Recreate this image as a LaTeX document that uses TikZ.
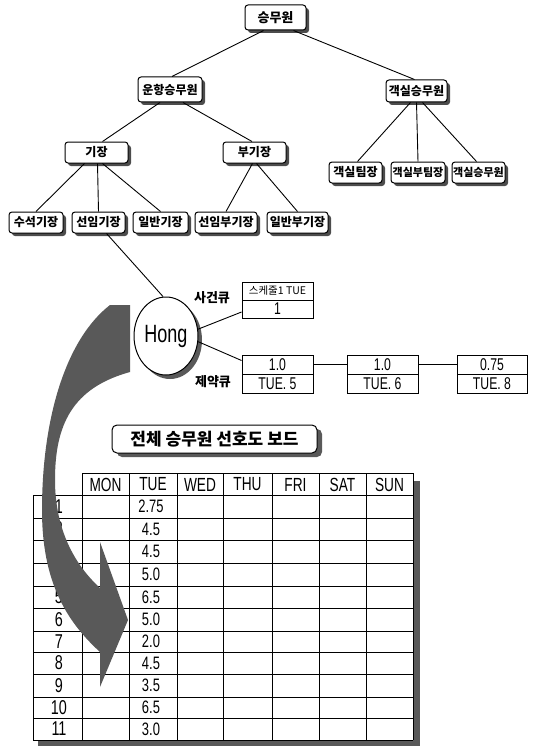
\documentclass[tikz,border=0pt]{standalone}
\usepackage{fontspec}
\setmainfont{Liberation Sans}
\newfontfamily\cond[FakeStretch=0.72]{Liberation Sans}
\newfontfamily\kr{Noto Sans CJK KR}
\usetikzlibrary{shapes.geometric,shadows,calc}
\begin{document}
\begin{tikzpicture}[x=1pt,y=-1pt,
  shd/.style={drop shadow={shadow xshift=3pt,shadow yshift=-3pt,fill=black!70,opacity=1}},
  tbox/.style={draw,line width=1pt,rounded corners=3pt,fill=white,shd,font=\kr\bfseries\fontsize{12}{12}\selectfont,inner xsep=1pt,inner ysep=0pt,minimum height=21pt},
  qcell/.style={draw,line width=0.9pt,fill=white,minimum width=71pt,minimum height=19pt,inner sep=0pt,font=\cond\fontsize{17}{17}\selectfont},
  conn/.style={line width=0.9pt},
  lbl/.style={font=\kr\bfseries\fontsize{13}{13}\selectfont},
  hd/.style={font=\cond\fontsize{19}{19}\selectfont,inner sep=0pt},
  grid/.style={line width=1pt},
]
\useasboundingbox (0,0) rectangle (535,749);

% ---------- tree ----------
\node[tbox,minimum width=61pt,minimum height=25pt,font=\kr\bfseries\fontsize{13}{13}\selectfont] (root) at (275.5,17.5) {승무원};
\node[tbox,minimum width=64pt,minimum height=25pt] (fl) at (170,89.5) {운항승무원};
\node[tbox,minimum width=61pt,minimum height=22pt] (cab) at (416.5,91) {객실승무원};
\node[tbox,minimum width=63pt] (cap) at (96.5,152.5) {기장};
\node[tbox,minimum width=63pt] (fo) at (254.5,152.5) {부기장};
\node[tbox,minimum width=53pt] (ca1) at (355.5,172.5) {객실팀장};
\node[tbox,minimum width=54pt,font=\kr\bfseries\fontsize{11}{11}\selectfont] (ca2) at (418,172.5) {객실부팀장};
\node[tbox,minimum width=53pt,font=\kr\bfseries\fontsize{11}{11}\selectfont] (ca3) at (478.5,172.5) {객실승무원};
\node[tbox,minimum width=54pt] (k1) at (36,222.5) {수석기장};
\node[tbox,minimum width=53pt] (k2) at (98.5,222.5) {선임기장};
\node[tbox,minimum width=55pt] (k3) at (160.5,222.5) {일반기장};
\node[tbox,minimum width=62pt] (k4) at (226,222.5) {선임부기장};
\node[tbox,minimum width=61pt] (k5) at (297.5,222.5) {일반부기장};

% ---------- table ----------
\fill[black!65] (413,481) rectangle (420,746);
\fill[black!65] (38,740) rectangle (420,746);
\fill[white] (82,473) rectangle (413,740);
\fill[white] (33,495) rectangle (82,740);
\draw[grid] (82,473) -- (413,473);
\foreach \y in {495,518,540,563,586,608,631,652,674,697,718,740}
  \draw[grid] (33,\y) -- (413,\y);
\draw[grid] (33,495) -- (33,740);
\foreach \x in {82,129,177,223,272,319,366,413}
  \draw[grid] (\x,473) -- (\x,740);
\foreach \d/\x [count=\i] in {MON/105.5,TUE/153,WED/200,THU/247.5,FRI/295.5,SAT/342.5,SUN/389.5}
  \node[hd] (h\i) at (\x,484.5) {\d};
\foreach \y/\v [count=\i] in {506.5/2.75,529/4.5,551.5/4.5,574.5/5.0,597/6.5,619.5/5.0,641.5/2.0,663/4.5,685.5/3.5,707.5/6.5,729/3.0}{
  \node[hd,font=\cond\fontsize{20}{20}\selectfont] (r\i) at (59,\y) {\i};
  \node[hd,font=\cond\fontsize{18}{18}\selectfont] (v\i) at (151,\y) {\v};
}

% ---------- big curved arrow ----------
\fill[black!65] (110,305) -- (130,305) -- (130,372)
  .. controls (72,388) and (55,425) .. (55,480)
  .. controls (55,530) and (75,565) .. (100,588)
  -- (100,542) -- (128,620) -- (100,687) -- (100,652)
  .. controls (65,620) and (42,580) .. (42,510)
  .. controls (42,420) and (65,340) .. (110,305) -- cycle;

% ---------- Hong and queues ----------
\node[ellipse,draw,line width=1pt,fill=white,minimum width=64pt,minimum height=78pt,inner sep=0pt,
  font=\cond\fontsize{25}{25}\selectfont,
  drop shadow={shadow xshift=4pt,shadow yshift=-4pt,fill=black!65,opacity=1}] (hong) at (166,336) {Hong};
\node[lbl] (sa) at (212,298) {사건큐};
\node[lbl] (je) at (213,382) {제약큐};

\node[qcell,minimum height=18pt,font=\kr\fontsize{10.5}{10.5}\selectfont] (s1t) at (277.5,291) {스케줄1 TUE};
\node[qcell,minimum height=18pt] (s1b) at (277.5,309) {1};
\node[qcell] (q1t) at (277.5,364.5) {1.0};
\node[qcell] (q1b) at (277.5,383.5) {TUE. 5};
\node[qcell] (q2t) at (382.5,364.5) {1.0};
\node[qcell] (q2b) at (382.5,383.5) {TUE. 6};
\node[qcell,minimum width=70pt] (q3t) at (492,364.5) {0.75};
\node[qcell,minimum width=70pt] (q3b) at (492,383.5) {TUE. 8};

% ---------- title ----------
\node[draw,line width=1pt,rounded corners=5pt,fill=white,font=\kr\bfseries\fontsize{17}{17}\selectfont,
  minimum width=205pt,minimum height=28pt,inner sep=0pt,
  drop shadow={shadow xshift=5pt,shadow yshift=-4pt,fill=black!65,opacity=1}] (title) at (214.5,439) {전체 승무원 선호도 보드};

% ---------- connectors ----------
\draw[conn] ([xshift=-12pt]root.south) -- ([xshift=2pt]fl.north);
\draw[conn] ([xshift=18pt]root.south) -- ([xshift=-2pt]cab.north);
\draw[conn] ([xshift=-10pt]fl.south) -- ([xshift=6pt]cap.north);
\draw[conn] ([xshift=13pt]fl.south) -- ([xshift=-2.5pt]fo.north);
\draw[conn] ([xshift=-6pt]cab.south) -- ([xshift=2pt]ca1.north);
\draw[conn] (cab.south) -- (ca2.north);
\draw[conn] ([xshift=6pt]cab.south) -- ([xshift=-2pt]ca3.north);
\draw[conn] ([xshift=-12pt]cap.south) -- (k1.north);
\draw[conn] ([xshift=1pt]cap.south) -- (k2.north);
\draw[conn] ([xshift=6pt]cap.south) -- (k3.north);
\draw[conn] ([xshift=-2pt]fo.south) -- (k4.north);
\draw[conn] ([xshift=2pt]fo.south) -- (k5.north);
\draw[conn] ([xshift=8pt]k2.south) -- ([xshift=-3pt]hong.north);
\draw[conn] (hong.12) -- ([yshift=-3pt]s1b.west);
\draw[conn] (hong.-10) -- ([yshift=4pt]q1t.west);
\draw[conn] (q1t.east) -- (q2t.west);
\draw[conn] (q2t.east) -- (q3t.west);
\end{tikzpicture}
\end{document}
